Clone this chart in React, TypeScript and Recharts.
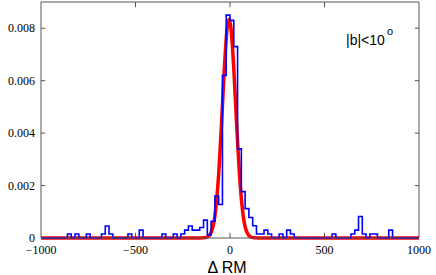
import { ComposedChart, Line, XAxis, YAxis, ReferenceLine, Label } from "recharts";

// axis ticks
const xTicks = [-1000, -500, 0, 500, 1000];
const yTicks = [0, 0.002, 0.004, 0.006, 0.008];

// histogram: 100 bins of width 20 starting at -1000 (density per bin)
const binStart = -1000;
const binWidth = 20;
const histDensity = [
  0, 0, 0, 0, 0, 0, 0, 0.00015, 0, 0.00015,
  0, 0, 0.00015, 0, 0, 0, 0.00015, 0.00046, 0.00015, 0,
  0, 0, 0, 0.00015, 0, 0, 0.0003, 0, 0, 0,
  0, 0, 0.00015, 0, 0, 0.00015, 0, 0.00015, 0.0003, 0.00046,
  0.0003, 0.0003, 0.0004, 0.00068, 0.00012, 0.00064, 0.0016, 0.00128, 0.0062, 0.0085,
  0.0083, 0.0073, 0.0034, 0.00177, 0.00112, 0.00078, 0.00047, 0.00015, 0.00015, 0.0003,
  0.00015, 0, 0, 0.00015, 0, 0.0003, 0.00015, 0, 0, 0,
  0, 0, 0, 0, 0, 0, 0, 0.00015, 0, 0,
  0, 0, 0.00015, 0.0003, 0.00082, 0.00015, 0, 0.00015, 0.00015, 0,
  0, 0, 0.0003, 0, 0, 0, 0, 0, 0, 0,
];

// red fitted curve
const fitX = [-1000, -200, -160, -140, -120, -100, -80, -60, -45, -30, -15, -5, 5, 20, 35, 50, 70, 90, 110, 130, 150, 200, 1000];
const fitY = [0, 0, 0, 0.000005, 0.00004, 0.00021, 0.00084, 0.00243, 0.00434, 0.00646, 0.00801, 0.00834, 0.00801, 0.00646, 0.00434, 0.00243, 0.00084, 0.00021, 0.00004, 0.000005, 0, 0, 0];

const panelLabel = "|b|<10";
const panelSup = "o";
const axisTitle = "Δ RM";

const histData = [
  ...histDensity.map((v, i) => ({ x: binStart + i * binWidth, y: v })),
  { x: binStart + histDensity.length * binWidth, y: 0 },
];
const fitData = fitX.map((x, i) => ({ x, y: fitY[i] }));

const frame = "#555";
const serif = "'Liberation Serif', 'DejaVu Serif', serif";
const sans = "'Liberation Sans', Arial, sans-serif";

const fmtX = (v: number) => String(v).replace("-", "\u2212");
const fmtY = (v: number) => (v === 0 ? "0" : v.toFixed(3));

function XTick(props: any) {
  const { x, y, payload } = props;
  return (
    <text x={x} y={y} dy="0.71em" textAnchor="middle" style={{ fontFamily: serif, fontSize: 12 }} fill="#000">
      {fmtX(payload.value)}
    </text>
  );
}

function YTick(props: any) {
  const { x, y, payload } = props;
  return (
    <text x={x} y={y} dy="0.33em" textAnchor="end" style={{ fontFamily: serif, fontSize: 12 }} fill="#000">
      {fmtY(payload.value)}
    </text>
  );
}

export default function App() {
  return (
    <div style={{ position: "fixed", left: 0, top: 0, width: 436, height: 275, background: "#fff" }}>
      <ComposedChart width={436} height={275} margin={{ top: 2, right: 17, bottom: 0, left: 0 }}>
        <XAxis
          dataKey="x"
          type="number"
          domain={[-1000, 1000]}
          ticks={xTicks}
          height={37}
          tickLine={false}
          tickSize={0}
          tickMargin={7}
          tick={<XTick />}
          axisLine={{ stroke: frame }}
          allowDuplicatedCategory={false}
        >
          <Label
            value={axisTitle}
            position="insideBottom"
            offset={2}
            dx={-3}
            style={{ fontFamily: sans, fontSize: 16, fill: "#000" }}
          />
        </XAxis>
        <YAxis
          type="number"
          domain={[0, 0.009]}
          ticks={yTicks}
          width={41}
          tickLine={false}
          tickSize={0}
          tickMargin={6}
          tick={<YTick />}
          axisLine={{ stroke: frame }}
        />

        {/* box: top and right sides */}
        <ReferenceLine y={0.009} stroke={frame} />
        <ReferenceLine x={1000} stroke={frame} />

        {/* inward ticks */}
        {[-500, 0, 500].map((t) => (
          <ReferenceLine key={"b" + t} segment={[{ x: t, y: 0 }, { x: t, y: 0.0002 }]} stroke={frame} />
        ))}
        {[-500, 0, 500].map((t) => (
          <ReferenceLine key={"t" + t} segment={[{ x: t, y: 0.009 }, { x: t, y: 0.0088 }]} stroke={frame} />
        ))}
        {yTicks.slice(1).map((t) => (
          <ReferenceLine key={"l" + t} segment={[{ x: -1000, y: t }, { x: -978, y: t }]} stroke={frame} />
        ))}
        {yTicks.slice(1).map((t) => (
          <ReferenceLine key={"r" + t} segment={[{ x: 1000, y: t }, { x: 978, y: t }]} stroke={frame} />
        ))}

        <Line
          data={fitData}
          dataKey="y"
          type="monotone"
          stroke="#ff0000"
          strokeWidth={3.5}
          dot={false}
          activeDot={false}
          isAnimationActive={false}
        />
        <Line
          data={histData}
          dataKey="y"
          type="stepAfter"
          stroke="#0000ff"
          strokeWidth={1.6}
          dot={false}
          activeDot={false}
          isAnimationActive={false}
        />
      </ComposedChart>
      <svg width={436} height={275} style={{ position: "absolute", left: 0, top: 0, pointerEvents: "none" }}>
        <text x={346} y={45} style={{ fontFamily: sans, fontSize: 14 }} fill="#000">
          {panelLabel}
        </text>
        <text x={387} y={34.5} style={{ fontFamily: sans, fontSize: 11 }} fill="#000">
          {panelSup}
        </text>
      </svg>
    </div>
  );
}
